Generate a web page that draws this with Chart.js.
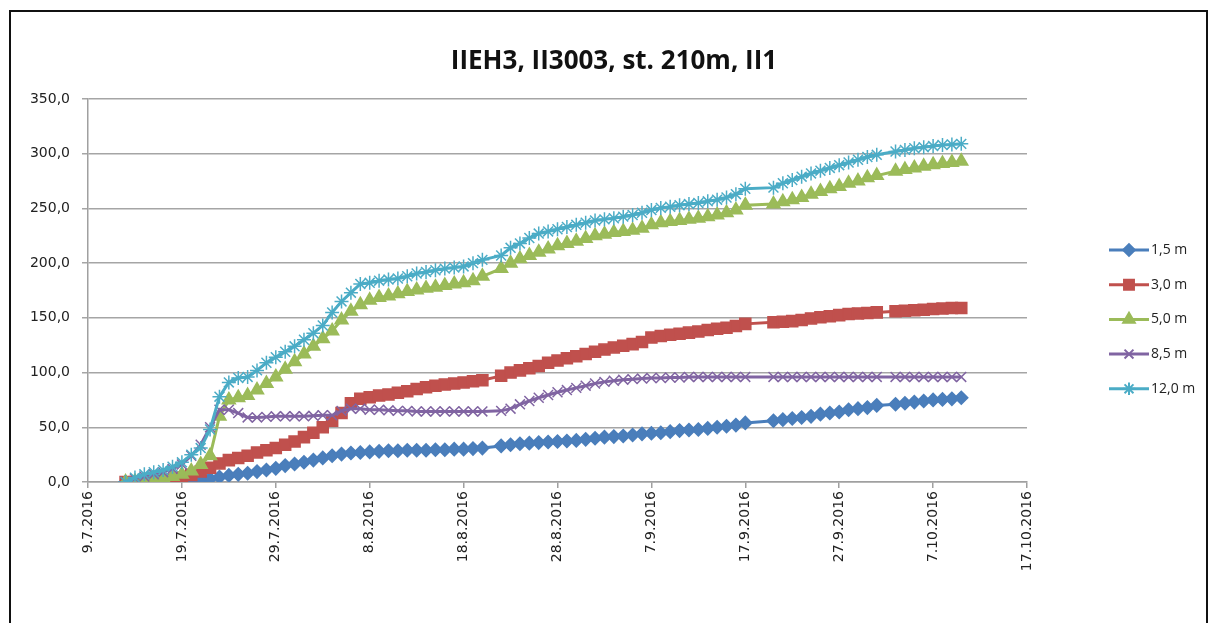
<!DOCTYPE html>
<html>
<head>
<meta charset="utf-8">
<script src="https://cdn.jsdelivr.net/npm/chart.js@4.4.0/dist/chart.umd.min.js"></script>
<style>
  body { margin: 0; background: #fff; }
  #wrap { position: relative; width: 1212px; height: 623px; overflow: hidden; }
  #frame { position: absolute; left: 9px; top: 10px; width: 1195px; height: 640px; border: 2px solid #111; }
  #wrap canvas { position: absolute; left: 0; top: 0; }
</style>
</head>
<body>
<div id="wrap">
  <div id="frame"></div>
  <canvas id="myChart"></canvas>
</div>
<script>
const title = 'IIEH3, II3003, st. 210m, II1';
const seriesNames = ['1,5 m', '3,0 m', '5,0 m', '8,5 m', '12,0 m'];

const dates = [
  '13.7.2016', '14.7.2016', '15.7.2016', '16.7.2016', '17.7.2016', '18.7.2016', '19.7.2016', '20.7.2016', '21.7.2016', '22.7.2016',
  '23.7.2016', '24.7.2016', '25.7.2016', '26.7.2016', '27.7.2016', '28.7.2016', '29.7.2016', '30.7.2016', '31.7.2016', '1.8.2016',
  '2.8.2016', '3.8.2016', '4.8.2016', '5.8.2016', '6.8.2016', '7.8.2016', '8.8.2016', '9.8.2016', '10.8.2016', '11.8.2016',
  '12.8.2016', '13.8.2016', '14.8.2016', '15.8.2016', '16.8.2016', '17.8.2016', '18.8.2016', '19.8.2016', '20.8.2016',
  '22.8.2016', '23.8.2016', '24.8.2016', '25.8.2016', '26.8.2016', '27.8.2016', '28.8.2016', '29.8.2016', '30.8.2016', '31.8.2016',
  '1.9.2016', '2.9.2016', '3.9.2016', '4.9.2016', '5.9.2016', '6.9.2016', '7.9.2016', '8.9.2016', '9.9.2016', '10.9.2016',
  '11.9.2016', '12.9.2016', '13.9.2016', '14.9.2016', '15.9.2016', '16.9.2016', '17.9.2016',
  '20.9.2016', '21.9.2016', '22.9.2016', '23.9.2016', '24.9.2016', '25.9.2016', '26.9.2016', '27.9.2016', '28.9.2016', '29.9.2016', '30.9.2016', '1.10.2016',
  '3.10.2016', '4.10.2016', '5.10.2016', '6.10.2016', '7.10.2016', '8.10.2016', '9.10.2016', '10.10.2016'
];

const s15 = [
  0, 0, 0, 0, 0, 0.5, 1, 1.5, 2, 3,
  4.5, 6, 7, 8, 9.5, 11, 12.5, 15, 16.5, 18,
  20, 22, 24, 25.5, 26.5, 27, 27.5, 28, 28.5, 28.5,
  29, 29, 29, 29.5, 29.5, 30, 30, 30.5, 31,
  33, 34, 35, 35.5, 36, 36.5, 37, 37.5, 38, 39,
  40, 41, 41.5, 42, 43, 44, 44.5, 45, 46, 47,
  47.5, 48, 49, 50, 51, 52, 54,
  56, 57, 58, 59, 60, 62, 63, 64, 66, 67, 68, 70,
  71, 72, 73, 74, 75, 75.5, 76, 77
];
const s30 = [
  0, 0, 0, 0.5, 1, 2, 4, 6.5, 9.5, 13,
  17, 20, 22, 24, 27, 29, 31, 34, 37, 41,
  45, 50, 56, 63, 72, 76, 77.5, 79, 80, 81.5,
  83, 85, 86.5, 88, 89, 90, 91, 92, 93,
  97, 100, 102, 104, 106, 109, 111, 113, 115, 117,
  119, 121, 123, 124.5, 126, 128, 132, 133.5, 134.5, 135.5,
  136.5, 137.5, 139, 140, 141, 142.5, 144.5,
  146, 146.5, 147, 148, 149.5, 150.5, 151.5, 152.5, 153.5, 154, 154.5, 155,
  156, 156.5, 157, 157.5, 158, 158.5, 159, 159
];
const s50 = [
  0, 0.5, 1, 2, 3.5, 5, 7, 10, 16, 24,
  60, 75, 77, 79, 84, 90, 96, 103, 110, 117,
  124, 131, 138, 148, 156, 162, 166, 168.5, 170, 172,
  174, 175.5, 177, 178, 179.5, 181, 182, 184, 188,
  195, 200, 204, 207, 210, 213, 216, 218, 220, 222.5,
  225, 226.5, 228, 229, 230, 232, 235, 237, 238, 239,
  240, 241, 242.5, 244, 246, 248.5, 253,
  254, 256, 258, 260, 263, 265.5, 268, 270, 273, 275, 278, 280,
  284, 285.5, 287, 288.5, 290, 291, 292, 293
];
const s85 = [
  0, 3, 5, 7, 9, 12, 16, 24, 34, 50,
  66, 66, 63, 59, 59, 59.5, 60, 60, 60, 60,
  60.5, 61, 61, 65, 67, 67, 66, 66, 65.5, 65,
  65, 64.5, 64.5, 64.5, 64.5, 64.5, 64.5, 64.5, 64.5,
  65, 67, 71, 74, 77, 79.5, 82, 84, 86, 88,
  90, 91.5, 92.5, 93.5, 94, 94.5, 95, 95, 95.5, 95.5,
  96, 96, 96, 96, 96, 96, 96,
  96, 96, 96, 96, 96, 96, 96, 96, 96, 96, 96, 96,
  96, 96, 96, 96, 96, 96, 96, 96
];
const s120 = [
  0, 4, 7, 9, 11, 14, 18, 25, 31, 48,
  78, 91, 95, 96, 102, 109, 114, 119, 124, 130,
  136, 143, 155, 165, 173, 181, 182, 184, 185, 186,
  188, 190.5, 192, 193.5, 195, 196, 197, 200, 203,
  207, 214, 218, 223, 227, 229, 231, 233, 235, 237,
  239, 240, 241, 242.5, 244, 246, 248.5, 250.5, 251.5, 253,
  254, 255, 256.5, 258, 260, 263, 268,
  269, 273, 276, 279, 282, 284.5, 287, 289.5, 292, 294.5, 297, 299,
  302, 303.5, 305, 306, 307, 308, 308.5, 309
];

const seriesValues = [s15, s30, s50, s85, s120];
const colors = ['#4a7ebb', '#c0504d', '#9bbb59', '#8064a2', '#4bacc6'];
const markers = ['rectRot', 'rect', 'triangle', 'crossRot', 'star'];
const markerSizes = [6.5, 7.8, 7.5, 7, 7];

const DAY = 86400000;
const ORIGIN = Date.UTC(2016, 6, 9);

const toDay = (s) => {
    const [d, m, y] = s.split('.').map(Number);
    return (Date.UTC(y, m - 1, d) - ORIGIN) / DAY;
};

const fmtDate = (v) => {
    const dt = new Date(ORIGIN + v * DAY);
    return `${dt.getUTCDate()}.${dt.getUTCMonth() + 1}.${dt.getUTCFullYear()}`;
};

// title centred on the whole frame, legend drawn as line + marker like the original
const overlay = {
    id: 'overlay',
    afterDraw: (chart) => {
        const ctx = chart.ctx;
        ctx.save();
        ctx.fillStyle = '#111';
        ctx.font = 'bold 26px "Open Sans"';
        ctx.textAlign = 'center';
        ctx.textBaseline = 'middle';
        ctx.fillText(title, 614, 62);

        ctx.textAlign = 'left';
        seriesNames.forEach((name, i) => {
            const y = 250 + i * 34.7;
            ctx.strokeStyle = colors[i];
            ctx.fillStyle = colors[i];
            ctx.lineWidth = 3;
            ctx.beginPath();
            ctx.moveTo(1109, y);
            ctx.lineTo(1149, y);
            ctx.stroke();
            ctx.lineWidth = 2;
            Chart.helpers.drawPoint(ctx, {
                pointStyle: markers[i],
                radius: markerSizes[i] * 0.9,
                borderWidth: 2,
            }, 1129, y);
            ctx.fillStyle = '#222';
            ctx.font = '14px "Open Sans"';
            ctx.fillText(name, 1151, y);
        });
        ctx.restore();
    }
};

const ctx = document.getElementById('myChart');
new Chart(ctx, {
    type: 'line',
    data: {
        datasets: seriesNames.map((name, i) => ({
            label: name,
            data: dates.map((d, j) => ({ x: toDay(d), y: seriesValues[i][j] })),
            borderColor: colors[i],
            backgroundColor: colors[i],
            pointBackgroundColor: colors[i],
            pointBorderColor: colors[i],
            pointStyle: markers[i],
            pointRadius: markerSizes[i],
            pointBorderWidth: 1.5,
            borderWidth: 3,
            tension: 0,
            order: 5 - i,
        }))
    },
    options: {
        responsive: true,
        maintainAspectRatio: false,
        animation: false,
        layout: {
            padding: { left: 0, right: 185, top: 99, bottom: 0 }
        },
        plugins: {
            legend: { display: false },
            tooltip: { enabled: false },
            title: { display: false }
        },
        scales: {
            x: {
                type: 'linear',
                min: 0,
                max: 100,
                afterFit: (scale) => { scale.height = 141; },
                ticks: {
                    stepSize: 10,
                    minRotation: 90,
                    maxRotation: 90,
                    padding: 3,
                    color: '#222',
                    font: { family: 'DejaVu Sans', size: 14 },
                    callback: (val) => fmtDate(val)
                },
                grid: {
                    display: true,
                    drawOnChartArea: false,
                    drawTicks: true,
                    tickLength: 6,
                    color: '#a0a0a0',
                    lineWidth: 1.5
                },
                border: { display: true, color: '#a0a0a0', width: 1.5 }
            },
            y: {
                min: 0,
                max: 350,
                afterFit: (scale) => { scale.width = 88; },
                ticks: {
                    stepSize: 50,
                    padding: 12,
                    color: '#222',
                    font: { family: 'DejaVu Sans', size: 14 },
                    callback: (val) => val.toFixed(1).replace('.', ',')
                },
                grid: {
                    display: true,
                    drawTicks: true,
                    tickLength: 6,
                    color: '#a5a5a5',
                    lineWidth: 1.5
                },
                border: { display: true, color: '#a0a0a0', width: 1.5 }
            }
        }
    },
    plugins: [overlay]
});
</script>
</body>
</html>
